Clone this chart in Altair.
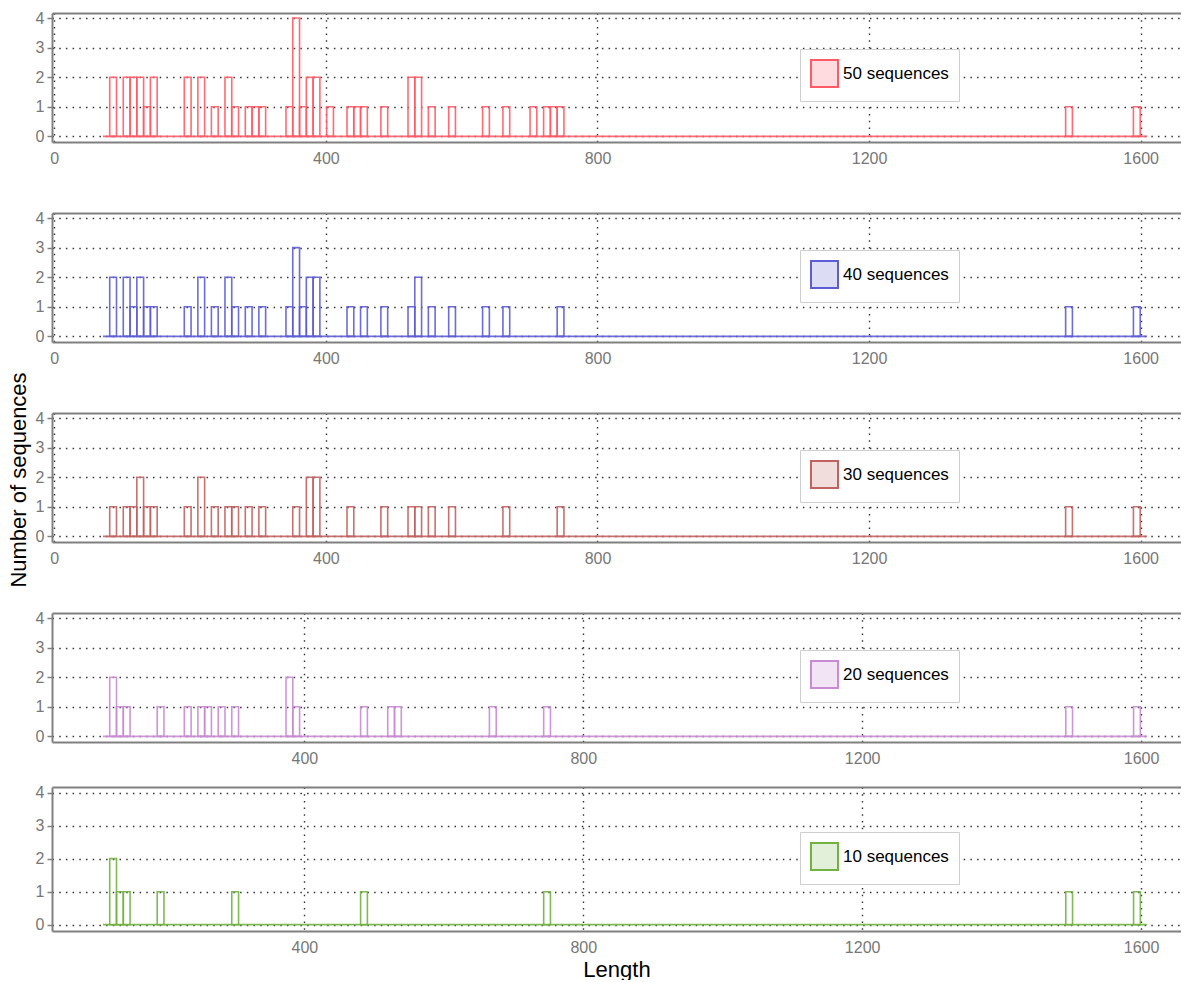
import altair as alt
import pandas as pd

LABELS = ["50 sequences", "40 sequences", "30 sequences", "20 sequences", "10 sequences"]
COLORS = ["#ff5a66", "#5c5cd6", "#c2625f", "#c98bd3", "#72b241"]
FILLS = ["#ffdade", "#dddcf5", "#f1dddc", "#f3e4f5", "#e3f0d9"]

# histogram bin grid per panel (sequence length units)
BIN_ORIGIN = [81.6, 81.6, 81.6, 120.8, 120.8]
BIN_WIDTH = [9.985, 9.985, 9.985, 9.725, 9.725]
LAST_EDGE = 153  # baseline runs one bin before the first bin up to this bin index

# occupied bins (index on the grid) and counts
BINS = [
    [0, 2, 3, 4, 5, 6, 11, 13, 15, 17, 18, 20, 21, 22, 26, 27, 28, 29, 30, 32,
     35, 36, 37, 40, 44, 45, 47, 50, 55, 58, 62, 64, 65, 66, 141, 151],
    [0, 2, 3, 4, 5, 6, 11, 13, 15, 17, 18, 20, 22, 26, 27, 28, 29, 30,
     35, 37, 40, 44, 45, 47, 50, 55, 58, 66, 141, 151],
    [0, 2, 3, 4, 5, 6, 11, 13, 15, 17, 18, 20, 22, 27, 29, 30,
     35, 40, 44, 45, 47, 50, 58, 66, 141, 151],
    [0, 1, 2, 7, 11, 13, 14, 16, 18, 26, 27, 37, 41, 42, 56, 64, 141, 151],
    [0, 1, 2, 7, 18, 37, 64, 141, 151],
]
COUNTS = [
    [2, 2, 2, 2, 1, 2, 2, 2, 1, 2, 1, 1, 1, 1, 1, 4, 1, 2, 2, 1,
     1, 1, 1, 1, 2, 2, 1, 1, 1, 1, 1, 1, 1, 1, 1, 1],
    [2, 2, 1, 2, 1, 1, 1, 2, 1, 2, 1, 1, 1, 1, 3, 1, 2, 2,
     1, 1, 1, 1, 2, 1, 1, 1, 1, 1, 1, 1],
    [1, 1, 1, 2, 1, 1, 1, 2, 1, 1, 1, 1, 1, 1, 2, 2,
     1, 1, 1, 1, 1, 1, 1, 1, 1, 1],
    [2, 1, 1, 1, 1, 1, 1, 1, 1, 2, 1, 1, 1, 1, 1, 1, 1, 1],
    [2, 1, 1, 1, 1, 1, 1, 1, 1],
]

X_DOMAINS = [[-3.4, 1659.4]] * 3 + [[38.0, 1657.3]] * 2
X_TICKS = [[0, 400, 800, 1200, 1600]] * 3 + [[400, 800, 1200, 1600]] * 2
Y_TICKS = [0, 1, 2, 3, 4]
Y_DOMAIN = [-0.19, 4.17]

FONT = "Liberation Sans"
PLOT_W = 1129
HEIGHTS = [129, 129, 129, 129, 144]
LEGEND_Y = [36, 37, 37, 37, 45]


def panel(i):
    o, w = BIN_ORIGIN[i], BIN_WIDTH[i]
    bars = pd.DataFrame({
        "start": [o + k * w for k in BINS[i]],
        "end": [o + (k + 1) * w for k in BINS[i]],
        "count": COUNTS[i],
    })
    base = pd.DataFrame({"x0": [o - w], "x1": [o + LAST_EDGE * w], "zero": [0]})
    fld = f"series{i}"
    leg = pd.DataFrame({fld: [LABELS[i]]})

    xs = alt.Scale(domain=X_DOMAINS[i], nice=False, zero=False)
    ys = alt.Scale(domain=Y_DOMAIN, nice=False, zero=False)
    last = i == 4

    xaxis = alt.Axis(
        orient="bottom", values=X_TICKS[i], format="d", grid=True,
        title="Length" if last else None, ticks=False, labelPadding=8,
        labelOverlap=False,
    )
    yaxis = alt.Axis(orient="left", values=Y_TICKS, grid=True, title=None,
                     tickSize=5, labelPadding=3, labelOverlap=False)

    rects = alt.Chart(bars).mark_rect(
        fillOpacity=0, stroke=COLORS[i], strokeWidth=1.6, strokeOpacity=0.9
    ).encode(
        x=alt.X("start:Q", scale=xs, axis=xaxis),
        x2="end:Q",
        y=alt.Y("zero_:Q", scale=ys, axis=yaxis),
        y2="count:Q",
    ).transform_calculate(zero_="0")

    baseline = alt.Chart(base).mark_rule(
        color=COLORS[i], strokeWidth=1.8, strokeOpacity=0.9
    ).encode(
        x=alt.X("x0:Q", scale=xs, axis=alt.Axis(
            orient="top", labels=False, ticks=False, grid=False, title=None,
            domain=True)),
        x2="x1:Q",
        y=alt.Y("zero:Q", scale=ys, axis=yaxis),
    )

    legend_kw = dict(
        orient="none", legendX=748, legendY=LEGEND_Y[i], title=None,
        padding=10, fillColor="white", strokeColor="#cfcfcf",
        symbolType="square", symbolSize=729, symbolStrokeWidth=2,
        labelFontSize=17, labelFont=FONT, labelColor="black", labelOffset=4,
    )
    legend_layer = alt.Chart(leg).mark_square(filled=True, opacity=1).encode(
        fill=alt.Fill(f"{fld}:N", scale=alt.Scale(domain=[LABELS[i]], range=[FILLS[i]]),
                      legend=alt.Legend(**legend_kw)),
        stroke=alt.Stroke(f"{fld}:N", scale=alt.Scale(domain=[LABELS[i]], range=[COLORS[i]]),
                          legend=alt.Legend(**legend_kw)),
    ).transform_filter("false")

    return alt.layer(baseline, rects, legend_layer).properties(
        width=PLOT_W, height=HEIGHTS[i]
    )


top = alt.vconcat(*[panel(i) for i in range(4)], spacing=44).resolve_scale(
    fill="independent", stroke="independent"
).resolve_legend(fill="independent", stroke="independent")
chart = alt.vconcat(top, panel(4), spacing=18).resolve_scale(
    fill="independent", stroke="independent"
).resolve_legend(fill="independent", stroke="independent").properties(
    title=alt.TitleParams("Number of sequences", orient="left", anchor="middle",
                          fontSize=22, fontWeight="normal", font=FONT,
                          color="black", offset=4, dx=15),
    padding={"left": 0, "top": 2, "right": 0, "bottom": 0},
).configure_view(stroke=None).configure_axis(
    domainColor="#808080", domainWidth=2,
    gridColor="#333333", gridDash=[1.5, 5.2], gridWidth=1.4,
    labelFont=FONT, labelFontSize=16, labelColor="#777777",
    tickColor="#808080", tickWidth=1.5,
    titleFont=FONT, titleFontSize=22, titleFontWeight="normal", titleColor="black",
    titlePadding=4,
)

chart.save("out.html", embed_options={"renderer": "svg", "actions": False})
